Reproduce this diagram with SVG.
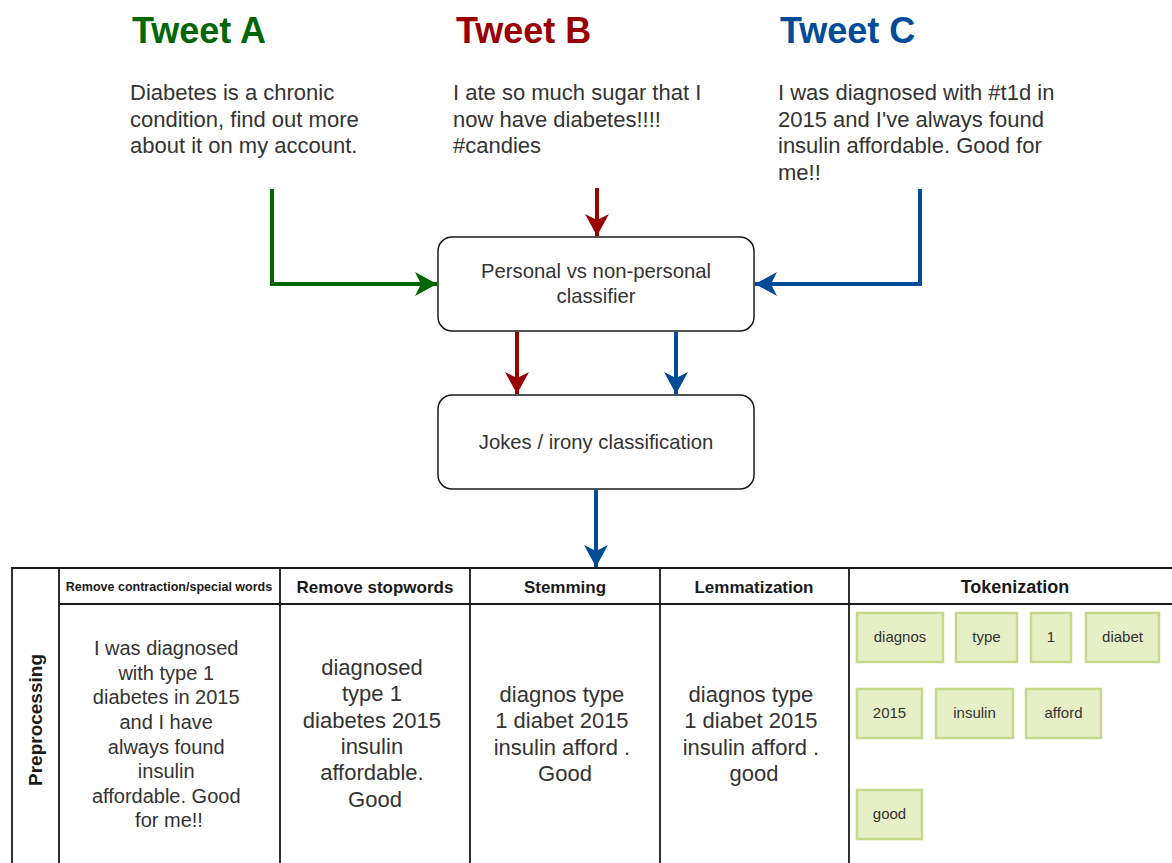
<svg xmlns="http://www.w3.org/2000/svg" width="1172" height="863" viewBox="0 0 1172 863">
  <style>
    .title { font-family: "Liberation Sans", Arial, sans-serif; font-weight: bold; font-size: 36px; }
    .body { font-family: "Liberation Sans", Arial, sans-serif; font-size: 22px; fill: #333333; }
    .box { fill: #ffffff; stroke: #1a1a1a; stroke-width: 1.5; }
    .boxtxt { font-family: "Liberation Sans", Arial, sans-serif; font-size: 20.3px; fill: #333333; text-anchor: middle; }
    .grid { fill: none; stroke: #1a1a1a; stroke-width: 1.8; }
    .hdr { font-family: "Liberation Sans", Arial, sans-serif; font-weight: bold; font-size: 17px; fill: #1a1a1a; text-anchor: middle; }
    .hdr-small { font-size: 12.5px; }
    .hdr-large { font-size: 18px; }
    .vlabel { font-size: 19px; }
    .cell { font-family: "Liberation Sans", Arial, sans-serif; fill: #333333; text-anchor: middle; }
    .tok { fill: #e6efc6; stroke: #c5d98c; stroke-width: 2.5; }
    .toktxt { font-family: "Liberation Sans", Arial, sans-serif; font-size: 15px; fill: #333333; text-anchor: middle; }
    .conn { fill: none; stroke-width: 4; }
  </style>
  <defs>
    <marker id="ahGreen" viewBox="0 0 24 26" refX="22" refY="13" markerWidth="24" markerHeight="26" markerUnits="userSpaceOnUse" orient="auto">
      <path d="M0,1 L22,13 L0,25 L6,13 Z" fill="#006600"/>
    </marker>
    <marker id="ahRed" viewBox="0 0 24 26" refX="22" refY="13" markerWidth="24" markerHeight="26" markerUnits="userSpaceOnUse" orient="auto">
      <path d="M0,1 L22,13 L0,25 L6,13 Z" fill="#990000"/>
    </marker>
    <marker id="ahBlue" viewBox="0 0 24 26" refX="22" refY="13" markerWidth="24" markerHeight="26" markerUnits="userSpaceOnUse" orient="auto">
      <path d="M0,1 L22,13 L0,25 L6,13 Z" fill="#004c99"/>
    </marker>
  </defs>

  <rect width="1172" height="863" fill="#ffffff"/>

  <!-- Tweets -->
  <g id="tweet-a">
    <text class="title" x="132" y="43" fill="#006600">Tweet A</text>
    <text class="body" x="130" y="100">Diabetes is a chronic</text>
    <text class="body" x="130" y="127">condition, find out more</text>
    <text class="body" x="130" y="153">about it on my account.</text>
  </g>
  <g id="tweet-b">
    <text class="title" x="456" y="43" fill="#990000">Tweet B</text>
    <text class="body" x="453" y="100">I ate so much sugar that I</text>
    <text class="body" x="453" y="127">now have diabetes!!!!</text>
    <text class="body" x="453" y="153">#candies</text>
  </g>
  <g id="tweet-c">
    <text class="title" x="780" y="43" fill="#004c99">Tweet C</text>
    <text class="body" x="778" y="100">I was diagnosed with #t1d in</text>
    <text class="body" x="778" y="127">2015 and I've always found</text>
    <text class="body" x="778" y="153">insulin affordable. Good for</text>
    <text class="body" x="778" y="180">me!!</text>
  </g>

  <!-- Classifier boxes -->
  <g id="personal-classifier">
    <rect class="box" x="438" y="237" width="316" height="94" rx="14" ry="14"/>
    <text class="boxtxt" x="596" y="278">Personal vs non-personal</text>
    <text class="boxtxt" x="596" y="303">classifier</text>
  </g>
  <g id="joke-classifier">
    <rect class="box" x="438" y="395" width="316" height="94" rx="14" ry="14"/>
    <text class="boxtxt" x="596" y="449">Jokes / irony classification</text>
  </g>

  <!-- Connectors -->
  <g id="connectors">
    <path class="conn" stroke="#006600" d="M272,189 L272,284 L437,284" marker-end="url(#ahGreen)"/>
    <path class="conn" stroke="#990000" d="M597,188 L597,236" marker-end="url(#ahRed)"/>
    <path class="conn" stroke="#004c99" d="M920,189 L920,284 L755,284" marker-end="url(#ahBlue)"/>
    <path class="conn" stroke="#990000" d="M517,332 L517,394" marker-end="url(#ahRed)"/>
    <path class="conn" stroke="#004c99" d="M676,332 L676,394" marker-end="url(#ahBlue)"/>
    <path class="conn" stroke="#004c99" d="M596,490 L596,567" marker-end="url(#ahBlue)"/>
  </g>

  <!-- Preprocessing table -->
  <g id="preprocessing">
    <path class="grid" d="M12,875 L12,568 L1180,568 M59,568 L59,875 M59,604 L1180,604 M280,568 L280,875 M470,568 L470,875 M660,568 L660,875 M849,568 L849,875"/>
    <text class="hdr vlabel" transform="translate(42,720) rotate(-90)">Preprocessing</text>
  </g>

  <g id="col-contractions">
    <text class="hdr hdr-small" x="169" y="591">Remove contraction/special words</text>
    <text class="cell" font-size="20">
      <tspan x="169" y="655">I was diagnosed</tspan>
      <tspan x="169" y="680">with type 1</tspan>
      <tspan x="169" y="704">diabetes in 2015</tspan>
      <tspan x="169" y="729">and I have</tspan>
      <tspan x="169" y="754">always found</tspan>
      <tspan x="169" y="778">insulin</tspan>
      <tspan x="169" y="803">affordable. Good</tspan>
      <tspan x="169" y="827">for me!!</tspan>
    </text>
  </g>

  <g id="col-stopwords">
    <text class="hdr" x="375" y="593">Remove stopwords</text>
    <text class="cell" font-size="22">
      <tspan x="375" y="675">diagnosed</tspan>
      <tspan x="375" y="701">type 1</tspan>
      <tspan x="375" y="728">diabetes 2015</tspan>
      <tspan x="375" y="754">insulin</tspan>
      <tspan x="375" y="780">affordable.</tspan>
      <tspan x="375" y="807">Good</tspan>
    </text>
  </g>

  <g id="col-stemming">
    <text class="hdr" x="565" y="593">Stemming</text>
    <text class="cell" font-size="22">
      <tspan x="565" y="702">diagnos type</tspan>
      <tspan x="565" y="728">1 diabet 2015</tspan>
      <tspan x="565" y="755">insulin afford .</tspan>
      <tspan x="565" y="781">Good</tspan>
    </text>
  </g>

  <g id="col-lemmatization">
    <text class="hdr" x="754" y="593">Lemmatization</text>
    <text class="cell" font-size="22">
      <tspan x="754" y="702">diagnos type</tspan>
      <tspan x="754" y="728">1 diabet 2015</tspan>
      <tspan x="754" y="755">insulin afford .</tspan>
      <tspan x="754" y="781">good</tspan>
    </text>
  </g>

  <g id="col-tokenization">
    <text class="hdr hdr-large" x="1015" y="593">Tokenization</text>
    <g id="tok-diagnos"><rect class="tok" x="857" y="613" width="86" height="49"/><text class="toktxt" x="900" y="642">diagnos</text></g>
    <g id="tok-type"><rect class="tok" x="956" y="613" width="61" height="49"/><text class="toktxt" x="986.5" y="642">type</text></g>
    <g id="tok-1"><rect class="tok" x="1031" y="613" width="40" height="49"/><text class="toktxt" x="1051" y="642">1</text></g>
    <g id="tok-diabet"><rect class="tok" x="1086" y="613" width="73" height="49"/><text class="toktxt" x="1122.5" y="642">diabet</text></g>
    <g id="tok-2015"><rect class="tok" x="857" y="689" width="65" height="49"/><text class="toktxt" x="889.5" y="718">2015</text></g>
    <g id="tok-insulin"><rect class="tok" x="936" y="689" width="77" height="49"/><text class="toktxt" x="974.5" y="718">insulin</text></g>
    <g id="tok-afford"><rect class="tok" x="1026" y="689" width="75" height="49"/><text class="toktxt" x="1063.5" y="718">afford</text></g>
    <g id="tok-good"><rect class="tok" x="857" y="790" width="65" height="49"/><text class="toktxt" x="889.5" y="819">good</text></g>
  </g>
</svg>
